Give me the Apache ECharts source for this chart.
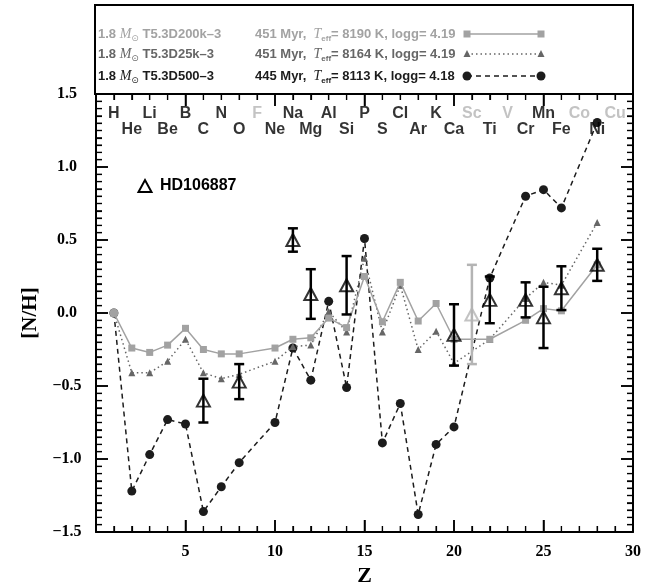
<!DOCTYPE html>
<html>
<head>
<meta charset="utf-8">
<script src="https://cdn.jsdelivr.net/npm/echarts@6/dist/echarts.min.js"></script>
<style>
  html, body { margin: 0; padding: 0; background: #fff; }
  #chart { width: 658px; height: 583px; }
</style>
</head>
<body>
<div id="chart"></div>
<script>
// atomic numbers covered by the models (F, Sc, V, Co, Cu not computed)
var zModel = [1, 2, 3, 4, 5, 6, 7, 8, 10, 11, 12, 13, 14, 15, 16, 17, 18, 19, 20, 22, 24, 25, 26, 28];
var m200k = [0, -0.24, -0.27, -0.22, -0.105, -0.25, -0.28, -0.28, -0.24, -0.18, -0.17, -0.035, -0.10, 0.25, -0.06, 0.21, -0.055, 0.065, -0.18, -0.18, -0.05, 0.03, 0.015, 0.33];
var m25k = [0, -0.41, -0.41, -0.33, -0.18, -0.41, -0.45, -0.42, -0.33, -0.23, -0.22, 0.01, -0.13, 0.375, -0.13, 0.19, -0.25, -0.125, -0.345, -0.18, 0.10, 0.21, 0.19, 0.62];
var m500 = [0, -1.22, -0.97, -0.73, -0.76, -1.36, -1.19, -1.025, -0.75, -0.24, -0.46, 0.08, -0.51, 0.51, -0.89, -0.62, -1.38, -0.90, -0.78, 0.24, 0.80, 0.845, 0.72, 1.305];

// HD106887 abundances
var obsZ = [6, 8, 11, 12, 14, 20, 21, 22, 24, 25, 26, 28];
var obsVal = [-0.60, -0.47, 0.50, 0.13, 0.19, -0.15, -0.01, 0.09, 0.09, -0.03, 0.17, 0.33];
var obsErr = [0.15, 0.12, 0.08, 0.17, 0.20, 0.21, 0.34, 0.16, 0.12, 0.21, 0.15, 0.11];

var elements = ['H','He','Li','Be','B','C','N','O','F','Ne','Na','Mg','Al','Si','P','S','Cl','Ar','K','Ca','Sc','Ti','V','Cr','Mn','Fe','Co','Ni','Cu'];
var faintElements = ['F','Sc','V','Co','Cu'];

var xTicks = [0, 5, 10, 15, 20, 25, 30];
var yTicks = [-1.5, -1.0, -0.5, 0.0, 0.5, 1.0, 1.5];

var legendRows = [
  {model: 'T5.3D200k\u20133', age: '451 Myr,', teff: '8190', logg: '4.19'},
  {model: 'T5.3D25k\u20133', age: '451 Myr,', teff: '8164', logg: '4.19'},
  {model: 'T5.3D500\u20133', age: '445 Myr,', teff: '8113', logg: '4.18'}
];

function pairs(xs, ys) {
  return xs.map(function (x, i) { return [x, ys[i]]; });
}
function isFaintZ(z) {
  return faintElements.indexOf(elements[z - 1]) >= 0;
}

var GRAY1 = '#a2a2a2', GRAY2 = '#666666', DARK = '#1c1c1c', FAINT = '#b4b4b4';
var serif = 'Liberation Serif', sans = 'Liberation Sans';

var xMin = xTicks[0], xMax = xTicks[xTicks.length - 1];
var yMin = yTicks[0], yMax = yTicks[yTicks.length - 1];

// plot box
var W = 658, H = 583;
var gLeft = 96, gRight = 25, gTop = 94, gBottom = 51;

var chart = echarts.init(document.getElementById('chart'));

function xAxisDef(pos, showLabel) {
  var ax = {
    type: 'value', position: pos, min: xMin, max: xMax, interval: 5,
    axisLine: {show: true, onZero: false, lineStyle: {color: '#000', width: 2}},
    axisTick: {show: true, inside: true, length: 12, lineStyle: {color: '#000', width: 1.5}},
    minorTick: {show: true, splitNumber: 5, length: 6, lineStyle: {color: '#000', width: 1.2}},
    splitLine: {show: false},
    axisLabel: {
      show: showLabel, margin: 12, fontFamily: serif, fontWeight: 'bold', fontSize: 16, color: '#000',
      formatter: function (v) { return xTicks.indexOf(v) > 0 ? String(v) : ''; }
    }
  };
  if (pos === 'bottom') {
    ax.name = 'Z';
    ax.nameLocation = 'middle';
    ax.nameGap = 33;
    ax.nameTextStyle = {fontFamily: serif, fontWeight: 'bold', fontSize: 22, color: '#000'};
  }
  return ax;
}

function yAxisDef(pos, showLabel) {
  var ax = {
    type: 'value', position: pos, min: yMin, max: yMax, interval: 0.5,
    axisLine: {show: true, onZero: false, lineStyle: {color: '#000', width: 2}},
    axisTick: {show: true, inside: true, length: 12, lineStyle: {color: '#000', width: 1.5}},
    minorTick: {show: true, splitNumber: 10, length: 6, lineStyle: {color: '#000', width: 1.2}},
    splitLine: {show: false},
    axisLabel: {
      show: showLabel, margin: 29, align: 'center', fontFamily: serif, fontWeight: 'bold', fontSize: 16, color: '#000',
      formatter: function (v) {
        var t = Math.abs(v).toFixed(1);
        return v < 0 ? '\u2212' + t : t;
      }
    }
  };
  if (pos === 'left') {
    ax.name = '[N/H]';
    ax.nameLocation = 'middle';
    ax.nameGap = 53;
    ax.nameTextStyle = {fontFamily: serif, fontWeight: 'bold', fontSize: 21, color: '#000'};
  }
  return ax;
}

// legend box drawn as graphics (line samples with a symbol at each end)
var rowY = [34, 54, 76];
var rowColor = [GRAY1, GRAY2, DARK];
var richText = {
  n: {fontFamily: sans, fontWeight: 'bold', fontSize: 13, lineHeight: 18, verticalAlign: 'middle'},
  m: {fontFamily: serif, fontStyle: 'italic', fontSize: 14, lineHeight: 18, verticalAlign: 'middle'},
  t: {fontFamily: serif, fontStyle: 'italic', fontSize: 14, lineHeight: 18, verticalAlign: 'middle'},
  s: {fontFamily: 'DejaVu Sans', fontSize: 9, lineHeight: 18, verticalAlign: 'bottom'},
  e: {fontFamily: sans, fontWeight: 'bold', fontSize: 8, lineHeight: 18, verticalAlign: 'bottom'}
};
var graphics = [{
  type: 'rect', shape: {x: 95, y: 5, width: 538, height: 89},
  style: {fill: 'none', stroke: '#000', lineWidth: 2}, z: 10
}];
legendRows.forEach(function (r, i) {
  var y = rowY[i], c = rowColor[i];
  graphics.push({
    type: 'text', x: 98, y: y, z: 10,
    style: {text: '{n|1.8 }{m|M}{s|\u2299}{n| ' + r.model + '}', rich: richText, fill: c, verticalAlign: 'middle'}
  });
  graphics.push({
    type: 'text', x: 255, y: y, z: 10,
    style: {text: '{n|' + r.age + '  }{t|T}{e|eff}{n|= ' + r.teff + ' K, logg= ' + r.logg + '}', rich: richText, fill: c, verticalAlign: 'middle'}
  });
  var dash = i === 0 ? null : (i === 1 ? [1.5, 3] : [5, 4]);
  graphics.push({
    type: 'line', z: 10, shape: {x1: 467, y1: y, x2: 541, y2: y},
    style: {stroke: c, lineWidth: 1.5, lineDash: dash}
  });
  [467, 541].forEach(function (x) {
    if (i === 0) {
      graphics.push({type: 'rect', z: 11, shape: {x: x - 3.5, y: y - 3.5, width: 7, height: 7}, style: {fill: c}});
    } else if (i === 1) {
      graphics.push({type: 'polygon', z: 11, shape: {points: [[x - 3.5, y + 3], [x + 3.5, y + 3], [x, y - 4]]}, style: {fill: c}});
    } else {
      graphics.push({type: 'circle', z: 11, shape: {cx: x, cy: y, r: 4.5}, style: {fill: c}});
    }
  });
});
// HD106887 key
graphics.push({
  type: 'polygon', z: 10, shape: {points: [[138.5, 192], [151.5, 192], [145, 180]]},
  style: {fill: 'none', stroke: '#000', lineWidth: 2}
});
graphics.push({
  type: 'text', x: 160, y: 186, z: 10,
  style: {text: 'HD106887', fontFamily: sans, fontWeight: 'bold', fontSize: 16, fill: '#000', verticalAlign: 'middle'}
});

// inward tick marks on the four sides of the plot box (own layer on top)
var boxR = W - gRight, boxB = H - gBottom;
function tickLine(x1, y1, x2, y2, major) {
  return {
    type: 'line', zlevel: 1, z: 1, silent: true,
    shape: {x1: x1, y1: y1, x2: x2, y2: y2},
    style: {stroke: '#000', lineWidth: major ? 1.5 : 1.2}
  };
}
for (var ix = xMin + 1; ix < xMax; ix++) {
  var mx = ix % 5 === 0, lx = mx ? 12 : 6;
  var px = gLeft + (ix - xMin) / (xMax - xMin) * (boxR - gLeft);
  graphics.push(tickLine(px, boxB, px, boxB - lx, mx));
  graphics.push(tickLine(px, gTop, px, gTop + lx, mx));
}
for (var k = -29; k < 30; k++) {
  var my = k % 10 === 0, ly = my ? 12 : 6;
  var py = boxB - (k * 0.05 - yMin) / (yMax - yMin) * (boxB - gTop);
  graphics.push(tickLine(gLeft, py, gLeft + ly, py, my));
  graphics.push(tickLine(boxR, py, boxR - ly, py, my));
}

var option = {
  animation: false,
  backgroundColor: '#fff',
  grid: {left: gLeft, right: gRight, top: gTop, bottom: gBottom, show: false, containLabel: false, outerBoundsMode: 'none'},
  xAxis: [xAxisDef('bottom', true), xAxisDef('top', false)],
  yAxis: [yAxisDef('left', true), yAxisDef('right', false)],
  graphic: graphics,
  series: [
    {
      name: 'T5.3D500-3', type: 'line', z: 2,
      data: pairs(zModel, m500),
      symbol: 'circle', symbolSize: 9,
      itemStyle: {color: DARK},
      lineStyle: {color: DARK, width: 1.5, type: [5, 4]}
    },
    {
      name: 'T5.3D25k-3', type: 'line', z: 3,
      data: pairs(zModel, m25k),
      symbol: 'triangle', symbolSize: 7,
      itemStyle: {color: GRAY2},
      lineStyle: {color: GRAY2, width: 1.5, type: [1.5, 3]}
    },
    {
      name: 'T5.3D200k-3', type: 'line', z: 4,
      data: pairs(zModel, m200k).map(function (p) {
        return p[0] === 1 ? {value: p, symbol: 'circle', symbolSize: 9} : p;
      }),
      symbol: 'rect', symbolSize: 7,
      itemStyle: {color: GRAY1},
      lineStyle: {color: GRAY1, width: 1.5}
    },
    {
      name: 'errors', type: 'custom', z: 5,
      data: obsZ.map(function (z, i) { return [z, obsVal[i], obsErr[i]]; }),
      renderItem: function (params, api) {
        var z = api.value(0), v = api.value(1), e = api.value(2);
        var top = api.coord([z, v + e]), bot = api.coord([z, v - e]);
        var c = isFaintZ(z) ? FAINT : '#000';
        var st = {stroke: c, lineWidth: 2.5};
        var w = 5;
        return {
          type: 'group',
          children: [
            {type: 'line', shape: {x1: top[0], y1: top[1], x2: bot[0], y2: bot[1]}, style: st},
            {type: 'line', shape: {x1: top[0] - w, y1: top[1], x2: top[0] + w, y2: top[1]}, style: st},
            {type: 'line', shape: {x1: bot[0] - w, y1: bot[1], x2: bot[0] + w, y2: bot[1]}, style: st}
          ]
        };
      }
    },
    {
      name: 'HD106887', type: 'scatter', z: 6,
      data: obsZ.map(function (z, i) {
        var c = isFaintZ(z) ? FAINT : '#000';
        return {value: [z, obsVal[i]], itemStyle: {color: 'rgba(0,0,0,0)', borderColor: c, borderWidth: 2}};
      }),
      symbol: 'triangle', symbolSize: [13, 12]
    },
    {
      name: 'elements', type: 'scatter', z: 7, silent: true,
      data: elements.map(function (el, i) {
        var z = i + 1;
        return {
          value: [z, z % 2 === 1 ? 1.363 : 1.257],
          label: {color: isFaintZ(z) ? FAINT : '#000'}
        };
      }),
      symbolSize: 1,
      itemStyle: {color: 'rgba(0,0,0,0)'},
      label: {
        show: true, position: 'inside', fontFamily: sans, fontWeight: 'bold', fontSize: 16,
        formatter: function (p) { return elements[p.value[0] - 1]; }
      }
    }
  ]
};
chart.setOption(option);
</script>
</body>
</html>
